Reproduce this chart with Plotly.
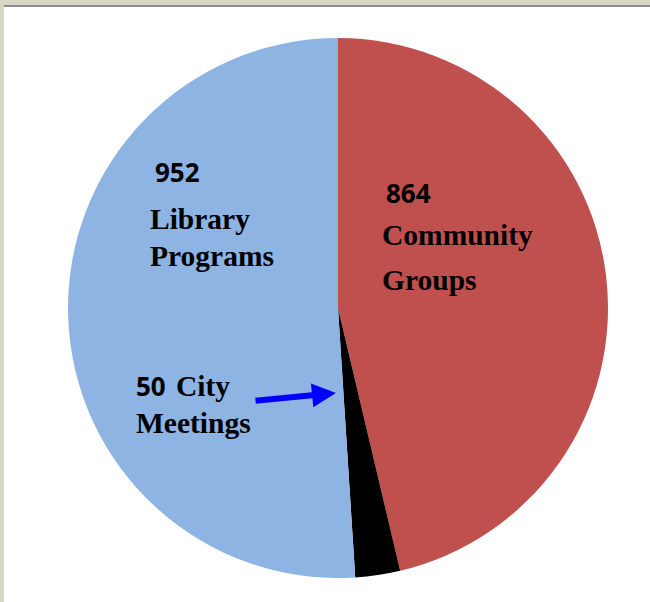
import plotly.graph_objects as go

categories = ["Community Groups", "City Meetings", "Library Programs"]
values = [864, 50, 952]
colors = ["#C0504D", "#000000", "#8EB4E3"]

W, H = 650, 602

def px(x):
    return x / W

def py(y):
    return 1 - y / H

fig = go.Figure()
fig.add_trace(go.Pie(
    labels=categories, values=values,
    marker=dict(colors=colors, line=dict(width=0)),
    sort=False, direction="clockwise", rotation=0,
    textinfo="none", hoverinfo="label+value", showlegend=False,
    domain=dict(x=[px(68), px(608)], y=[py(578), py(38)]),
))

num_font = dict(family="Noto Sans, Open Sans, sans-serif", size=26, color="#000000")
lab_font = dict(family="Liberation Serif, DejaVu Serif, serif", size=29.5, color="#000000")

texts = [
    ("<b>952</b>", 153, 172, num_font),
    ("<b>Library</b>", 148, 219, lab_font),
    ("<b>Programs</b>", 148, 256, lab_font),
    ("<b>864</b>", 384, 193, num_font),
    ("<b>Community</b>", 380, 235, lab_font),
    ("<b>Groups</b>", 380, 280, lab_font),
    ("<b>50</b>", 134, 386, num_font),
    ("<b>City</b>", 174, 386, lab_font),
    ("<b>Meetings</b>", 134, 423, lab_font),
]
annotations = []
for t, x, y, f in texts:
    annotations.append(dict(text=t, x=px(x), y=py(y), xref="paper", yref="paper",
                            xanchor="left", yanchor="middle", showarrow=False, font=f))
annotations.append(dict(text="", x=px(336), y=py(393), ax=-82, ay=8,
                        xref="paper", yref="paper", axref="pixel", ayref="pixel",
                        showarrow=True, arrowhead=2, arrowsize=0.8, arrowwidth=6,
                        arrowcolor="#0000FF"))

shapes = [
    dict(type="rect", xref="paper", yref="paper", x0=0, x1=1, y0=py(5), y1=1,
         fillcolor="#D9D6C3", line=dict(width=0), layer="above"),
    dict(type="rect", xref="paper", yref="paper", x0=0, x1=px(4), y0=0, y1=1,
         fillcolor="#D9D6C3", line=dict(width=0), layer="above"),
    dict(type="rect", xref="paper", yref="paper", x0=px(4), x1=1, y0=py(7), y1=py(5),
         fillcolor="#8C8C8C", line=dict(width=0), layer="above"),
]

fig.update_layout(
    width=W, height=H, margin=dict(l=0, r=0, t=0, b=0),
    paper_bgcolor="#FFFFFF", plot_bgcolor="#FFFFFF",
    annotations=annotations, shapes=shapes,
)
fig.write_html("out.html", config={"displayModeBar": False},
               post_script="document.body.style.margin='0';document.body.style.padding='0';")
